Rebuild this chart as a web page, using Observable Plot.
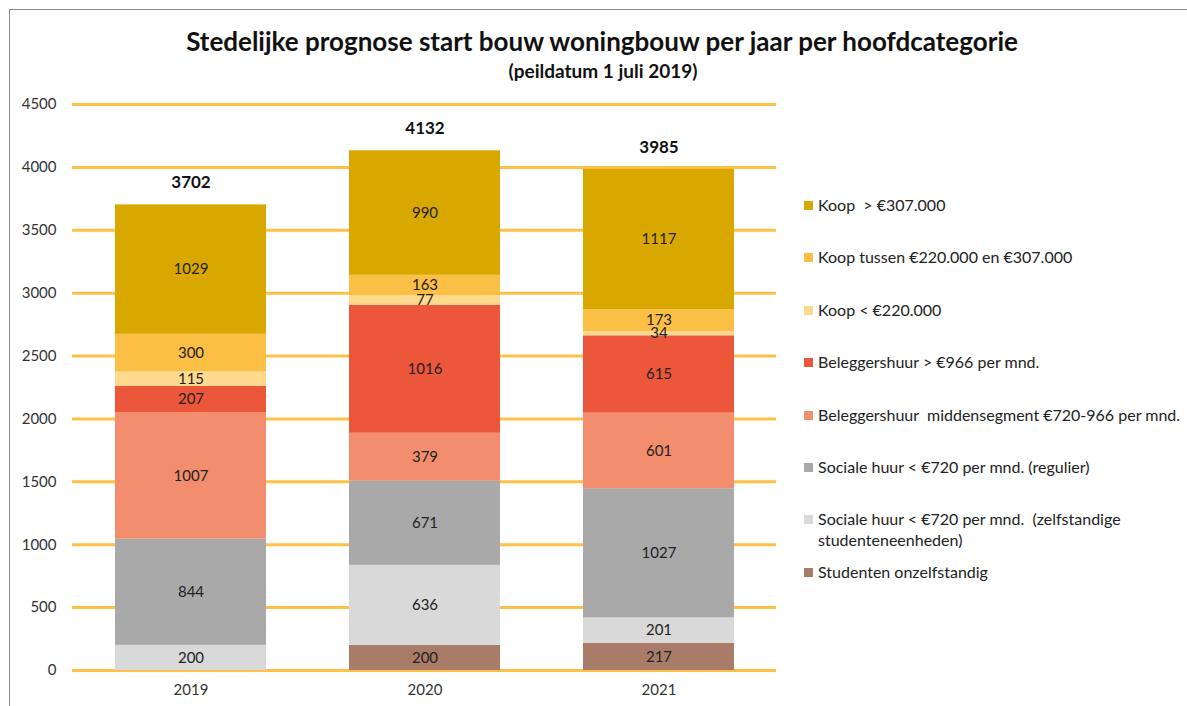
<!DOCTYPE html>
<html>
<head>
<meta charset="utf-8">
<script src="https://cdn.jsdelivr.net/npm/d3@7"></script>
<script src="https://cdn.jsdelivr.net/npm/@observablehq/plot@0.6"></script>
<style>
  html, body { margin: 0; padding: 0; background: #fff; }
  #wrap { position: relative; width: 1187px; height: 706px; overflow: hidden; font-family: Lato, "Open Sans", sans-serif; }
  #frame { position: absolute; left: 9px; top: 9px; width: 1200px; height: 720px; border-left: 1.5px solid #8a8a8a; border-top: 1.5px solid #8a8a8a; }
  #title { position: absolute; left: 0; width: 1204px; top: 26px; text-align: center; font-size: 26px; font-weight: bold; color: #111; line-height: 30px; }
  #subtitle { position: absolute; left: 0; width: 1206px; top: 60px; text-align: center; font-size: 19px; font-weight: bold; color: #111; line-height: 22px; }
  #chart { position: absolute; left: 0; top: 90px; }
  #legend { position: absolute; left: 0; top: 0; }
  .item { position: absolute; left: 804px; width: 383px; font-size: 16px; color: #222; line-height: 21px; }
  .sw { position: absolute; left: 0; top: 7px; width: 9px; height: 9px; }
  .lbl { position: absolute; left: 14px; width: 368px; }
</style>
</head>
<body>
<div id="wrap">
  <div id="frame"></div>
  <div id="title">Stedelijke prognose start bouw woningbouw per jaar per hoofdcategorie</div>
  <div id="subtitle">(peildatum 1 juli 2019)</div>
  <div id="chart"></div>
  <div id="legend"></div>
</div>
<script>
// Categories, bottom of stack first
const categories = [
  "Studenten onzelfstandig",
  "Sociale huur < €720 per mnd.  (zelfstandige studenteneenheden)",
  "Sociale huur < €720 per mnd. (regulier)",
  "Beleggershuur  middensegment €720-966 per mnd.",
  "Beleggershuur > €966 per mnd.",
  "Koop < €220.000",
  "Koop tussen €220.000 en €307.000",
  "Koop  > €307.000"
];
const colors = ["#a97c6a", "#d9d9d9", "#a9a9a9", "#f28e6e", "#ec573c", "#ffd98e", "#fcbf45", "#d9a800"];
const years = ["2019", "2020", "2021"];
// values per category (same order as categories), for 2019, 2020, 2021
const studentenOnzelfstandig = [0, 200, 217];
const socialeZelfstandig = [200, 636, 201];
const socialeRegulier = [844, 671, 1027];
const beleggersMidden = [1007, 379, 601];
const beleggersHoog = [207, 1016, 615];
const koopLaag = [115, 77, 34];
const koopMidden = [300, 163, 173];
const koopHoog = [1029, 990, 1117];
const yTicks = [0, 500, 1000, 1500, 2000, 2500, 3000, 3500, 4000, 4500];

const series = [studentenOnzelfstandig, socialeZelfstandig, socialeRegulier, beleggersMidden, beleggersHoog, koopLaag, koopMidden, koopHoog];
const data = [];
years.forEach((year, yi) => {
  categories.forEach((cat, ci) => data.push({year, cat, value: series[ci][yi]}));
});

const font = "Lato, 'Open Sans', sans-serif";
const chart = Plot.plot({
  width: 800,
  height: 616,
  marginTop: 14,
  marginBottom: 36,
  marginLeft: 72,
  marginRight: 24,
  style: {fontFamily: font, fontSize: "15px", color: "#333", background: "transparent"},
  x: {domain: years, paddingInner: 0.356, paddingOuter: 0.178, label: null},
  y: {domain: [0, 4500], label: null},
  color: {domain: categories, range: colors},
  marks: [
    Plot.ruleY(yTicks, {stroke: "#fdc149", strokeWidth: 3}),
    Plot.barY(data, Plot.stackY({x: "year", y: "value", z: "cat", fill: "cat"})),
    Plot.text(data, Plot.stackY({x: "year", y: "value", z: "cat", text: d => String(d.value), filter: d => d.value > 0, fill: "#222", fontSize: 15})),
    Plot.text(data, Plot.groupX({y: "sum", text: v => String(d3.sum(v))}, {x: "year", y: "value", text: "value", dy: -22, fontWeight: "bold", fontSize: 17, fill: "#111"})),
    Plot.axisY(yTicks, {tickSize: 0, tickPadding: 16, label: null, fill: "#333", tickFormat: d => String(d), fontSize: 15}),
    Plot.axisX({tickSize: 0, tickPadding: 14, label: null, fill: "#333", fontSize: 15})
  ]
});
document.getElementById("chart").appendChild(chart);

// Legend (top item = top of stack)
const legend = document.getElementById("legend");
const legendOrder = categories.map((c, i) => i).reverse();
legendOrder.forEach((ci, k) => {
  const item = document.createElement("div");
  item.className = "item";
  item.style.top = (206 + k * 52.4 - 12) + "px";
  const sw = document.createElement("div");
  sw.className = "sw";
  sw.style.background = colors[ci];
  const lbl = document.createElement("div");
  lbl.className = "lbl";
  lbl.textContent = categories[ci];
  lbl.style.whiteSpace = "pre-wrap";
  item.appendChild(sw);
  item.appendChild(lbl);
  legend.appendChild(item);
});
</script>
</body>
</html>
